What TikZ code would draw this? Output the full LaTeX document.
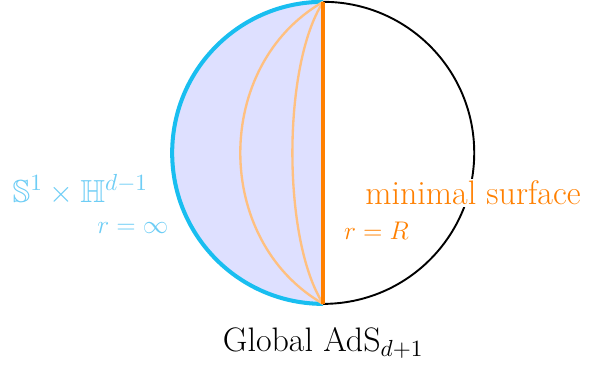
\documentclass[tikz,border=0pt]{standalone}
\usepackage{amsmath,amssymb}
\usetikzlibrary{positioning}
\definecolor{bdry}{RGB}{25,190,240}
\definecolor{bdrytxt}{RGB}{110,205,245}
\definecolor{surf}{RGB}{255,128,0}
\definecolor{bulk}{RGB}{222,224,255}

\begin{document}
\begin{tikzpicture}[x=1cm,y=1cm]
  \tikzset{
    lbl/.style={inner sep=1pt},
    big/.style={font=\fontsize{15}{18}\selectfont},
    bigtxt/.style={font=\fontsize{16}{19}\selectfont},
    sml/.style={font=\fontsize{12}{14}\selectfont},
    slice/.style={surf!50,line width=1.1pt}
  }
  \useasboundingbox (-5.35,-3.58) rectangle (4.83,2.53);

  % bulk region and boundary
  \coordinate (top) at (0,2.5);
  \coordinate (bot) at (0,-2.5);
  \fill[bulk] (top) arc[start angle=90,end angle=270,radius=2.5] -- cycle;
  \draw[line width=0.9pt] (top) arc[start angle=90,end angle=-90,radius=2.5];
  \draw[bdry,line width=1.9pt] (top) arc[start angle=90,end angle=270,radius=2.5];

  % family of surfaces
  \draw[slice] (top) .. controls (-1.83,1.45) and (-1.83,-1.45) .. (bot);
  \draw[slice] (top) .. controls (-0.68,1.45) and (-0.68,-1.45) .. (bot);
  \draw[surf,line width=1.9pt] (top) -- (bot);

  % labels
  \node[lbl,big,bdrytxt] (bnd) at (-4.02,-0.61) {$\mathbb{S}^1\times\mathbb{H}^{d-1}$};
  \node[lbl,sml,bdrytxt] (rinf) at (-3.15,-1.24) {$r=\infty$};
  \node[lbl,bigtxt,surf,fill=white] (min) at (2.48,-0.66) {minimal surface};
  \node[lbl,sml,surf] (rR) at (0.88,-1.29) {$r=R$};
  \node[lbl,bigtxt] (ads) at (0,-3.15) {Global AdS$_{d+1}$};
\end{tikzpicture}
\end{document}
